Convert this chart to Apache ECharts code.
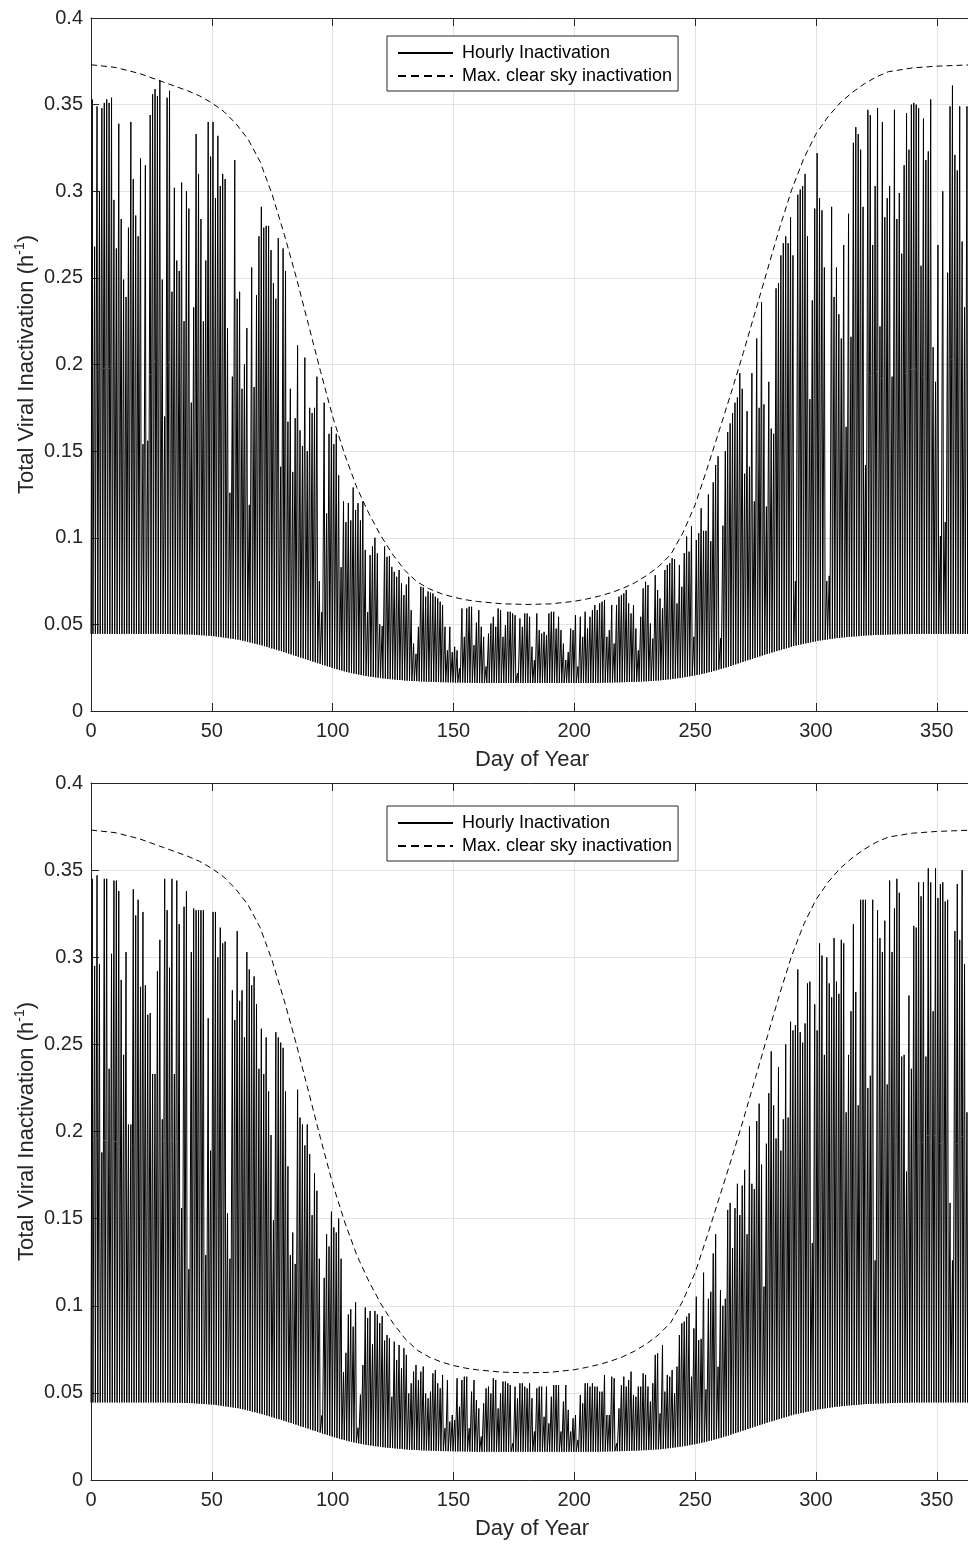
<!DOCTYPE html>
<html><head><meta charset="utf-8">
<script src="https://cdn.jsdelivr.net/npm/echarts/dist/echarts.min.js"></script>
<style>html,body{margin:0;padding:0;background:#fff}#c{width:968px;height:1544px}</style>
</head><body><div id="c"></div>
<script>
// x tick values (Day of Year) and series names
const xTickValues = [0, 50, 100, 150, 200, 250, 300, 350];
const seriesNames = ['Hourly Inactivation', 'Max. clear sky inactivation'];

// night-time (minimum) inactivation for each day 0..364, read from the lower envelope
const nightBase = [
0.0445,0.0445,0.0445,0.0445,0.0445,0.0445,0.0445,0.0445,0.0445,0.0445,
0.0445,0.0445,0.0445,0.0445,0.0445,0.0445,0.0445,0.0445,0.0445,0.0445,
0.0445,0.0445,0.0445,0.0445,0.0445,0.0445,0.0445,0.0445,0.0445,0.0445,
0.0445,0.0445,0.0444,0.0444,0.0444,0.0443,0.0443,0.0443,0.0442,0.0442,
0.0442,0.0441,0.0440,0.0439,0.0438,0.0437,0.0436,0.0435,0.0434,0.0433,
0.0432,0.0430,0.0428,0.0426,0.0424,0.0422,0.0420,0.0418,0.0416,0.0414,
0.0412,0.0409,0.0406,0.0403,0.0399,0.0396,0.0392,0.0389,0.0385,0.0382,
0.0378,0.0374,0.0370,0.0366,0.0361,0.0357,0.0353,0.0349,0.0345,0.0340,
0.0336,0.0331,0.0327,0.0322,0.0318,0.0313,0.0308,0.0304,0.0299,0.0295,
0.0290,0.0285,0.0281,0.0276,0.0272,0.0267,0.0263,0.0258,0.0254,0.0249,
0.0245,0.0241,0.0237,0.0233,0.0229,0.0226,0.0222,0.0219,0.0216,0.0213,
0.0210,0.0207,0.0205,0.0202,0.0200,0.0198,0.0196,0.0194,0.0192,0.0190,
0.0188,0.0187,0.0185,0.0184,0.0183,0.0181,0.0180,0.0179,0.0178,0.0176,
0.0175,0.0174,0.0173,0.0173,0.0172,0.0171,0.0170,0.0170,0.0169,0.0169,
0.0168,0.0168,0.0167,0.0167,0.0166,0.0166,0.0166,0.0165,0.0165,0.0165,
0.0164,0.0164,0.0164,0.0164,0.0163,0.0163,0.0163,0.0163,0.0163,0.0162,
0.0162,0.0162,0.0162,0.0162,0.0162,0.0162,0.0162,0.0162,0.0162,0.0162,
0.0162,0.0162,0.0162,0.0162,0.0162,0.0162,0.0162,0.0162,0.0162,0.0162,
0.0162,0.0162,0.0162,0.0162,0.0162,0.0162,0.0162,0.0162,0.0162,0.0162,
0.0162,0.0162,0.0162,0.0162,0.0162,0.0162,0.0162,0.0162,0.0162,0.0162,
0.0162,0.0162,0.0162,0.0162,0.0162,0.0162,0.0162,0.0162,0.0162,0.0162,
0.0163,0.0163,0.0163,0.0164,0.0164,0.0164,0.0165,0.0165,0.0165,0.0166,
0.0166,0.0167,0.0167,0.0168,0.0168,0.0169,0.0169,0.0170,0.0171,0.0171,
0.0172,0.0173,0.0174,0.0175,0.0176,0.0177,0.0179,0.0180,0.0182,0.0183,
0.0185,0.0187,0.0189,0.0191,0.0193,0.0195,0.0198,0.0200,0.0203,0.0205,
0.0208,0.0211,0.0214,0.0217,0.0220,0.0224,0.0227,0.0231,0.0235,0.0239,
0.0243,0.0247,0.0251,0.0256,0.0260,0.0265,0.0269,0.0274,0.0279,0.0283,
0.0288,0.0293,0.0297,0.0302,0.0306,0.0311,0.0315,0.0320,0.0324,0.0329,
0.0333,0.0337,0.0341,0.0346,0.0350,0.0354,0.0358,0.0362,0.0366,0.0371,
0.0375,0.0378,0.0381,0.0384,0.0387,0.0390,0.0393,0.0396,0.0399,0.0402,
0.0405,0.0407,0.0409,0.0411,0.0413,0.0415,0.0417,0.0419,0.0421,0.0422,
0.0424,0.0425,0.0427,0.0428,0.0429,0.0430,0.0431,0.0432,0.0434,0.0435,
0.0436,0.0437,0.0437,0.0438,0.0439,0.0439,0.0440,0.0440,0.0441,0.0441,
0.0442,0.0442,0.0443,0.0443,0.0443,0.0444,0.0444,0.0444,0.0444,0.0445,
0.0445,0.0445,0.0445,0.0445,0.0445,0.0445,0.0445,0.0445,0.0445,0.0445,
0.0445,0.0445,0.0445,0.0445,0.0445,0.0445,0.0445,0.0445,0.0445,0.0445,
0.0445,0.0445,0.0445,0.0445,0.0445
];

// daily peak of the hourly inactivation, top panel, days 0..364
const peaksTop = [
0.353,0.268,0.349,0.300,0.348,0.351,0.353,0.351,0.354,0.295,
0.267,0.339,0.284,0.249,0.239,0.279,0.340,0.307,0.286,0.274,
0.319,0.154,0.315,0.156,0.344,0.356,0.359,0.355,0.364,0.249,
0.170,0.354,0.358,0.242,0.302,0.260,0.254,0.305,0.225,0.300,
0.290,0.178,0.233,0.333,0.310,0.284,0.225,0.260,0.340,0.320,
0.340,0.296,0.332,0.303,0.310,0.307,0.221,0.126,0.193,0.318,
0.238,0.242,
0.186,0.200,0.221,0.119,0.256,0.187,0.240,0.274,0.291,0.279,
0.280,0.280,0.266,0.247,0.238,0.273,0.141,0.267,0.254,0.167,
0.186,0.138,0.169,0.211,0.162,0.153,0.204,0.150,0.175,0.172,
0.175,0.193,0.075,0.057,0.178,0.114,0.160,0.164,0.154,0.160,
0.136,0.083,0.121,0.109,0.120,0.110,0.129,0.116,0.120,0.110,
0.121,0.093,0.057,0.090,0.095,0.100,0.091,0.050,0.049,0.095,
0.089,0.0894,0.0832,0.0803,0.0775,0.0814,0.0737,0.0669,0.073,0.0775,
0.0582,0.0389,0.033,0.0486,0.0717,0.0713,0.066,0.069,0.0683,0.0679,
0.066,0.065,0.0631,0.0612,0.0486,0.035,0.0486,0.034,0.0371,0.035,
0.0247,0.0592,0.0428,0.0592,0.0602,0.0602,0.038,0.051,0.0582,0.0486,
0.0428,0.0257,0.0447,0.0505,0.0544,0.0486,0.0592,0.0582,0.0428,0.0496,
0.0573,0.0573,0.0563,0.0553,0.0218,0.0534,0.0486,0.0563,0.0563,0.0544,
0.0371,0.0294,0.0563,0.0467,0.0447,0.0457,0.0438,0.0563,0.0573,0.0573,
0.0476,0.0544,0.0467,0.0389,0.0294,0.034,0.0476,0.0467,0.0553,0.0257,
0.0544,0.0428,0.0573,0.0476,0.0544,0.0582,0.0612,0.0582,0.0621,0.0631,
0.0641,0.0428,0.0467,0.0612,0.0389,0.0612,0.066,0.0669,0.0679,0.0698,
0.0621,0.0563,0.0612,0.0476,0.035,0.0544,0.0708,0.0746,0.0727,0.0505,
0.0418,0.0784,0.0698,0.065,0.0592,0.0814,0.0843,0.0853,0.0882,0.0876,
0.0621,0.0843,0.0717,0.0911,0.1007,0.092,0.1067,0.0428,0.0987,0.1026,
0.117,0.104,0.104,0.125,0.098,0.132,0.142,0.147,0.042,0.107,
0.150,0.161,0.166,0.172,0.178,0.181,0.195,0.186,0.137,0.173,
0.141,0.195,0.121,0.215,0.175,0.236,0.177,0.118,0.190,0.163,
0.160,0.244,0.247,0.263,0.270,0.274,0.270,0.285,0.263,0.075,
0.298,0.301,0.303,0.310,0.274,0.180,0.237,0.290,0.322,0.296,
0.289,0.256,0.075,0.078,0.291,0.239,0.256,0.229,0.215,
0.269,
0.164,0.287,0.216,0.328,0.337,0.333,0.324,0.291,0.142,0.347,
0.344,0.269,0.303,0.348,0.222,0.340,0.285,0.296,0.303,0.193,
0.347,0.284,0.299,0.264,0.315,0.345,0.324,0.350,0.351,0.350,
0.348,0.257,0.342,0.318,0.323,0.353,0.210,0.190,0.269,0.101,
0.300,0.109,0.253,0.349,0.361,0.321,0.312,0.349,0.271,0.233,
0.349,
0.300,0.340
];

// daily peak of the hourly inactivation, bottom panel, days 0..364
const peaksBottom = [
0.345,0.295,0.347,0.296,0.188,0.345,0.345,0.236,0.302,0.344,
0.344,0.338,0.287,0.244,0.303,0.204,0.204,0.339,0.324,0.333,
0.283,0.326,0.284,0.267,0.268,0.233,0.233,0.292,0.310,0.207,
0.345,0.327,0.294,0.345,0.233,0.344,0.319,0.156,0.329,0.338,
0.121,0.303,0.328,0.327,0.327,0.327,0.327,0.129,0.265,0.189,
0.326,0.326,0.300,0.317,0.308,0.309,0.153,0.127,0.281,0.264,
0.315,0.275,
0.281,0.254,0.303,0.293,0.284,0.289,0.273,0.236,0.259,0.233,
0.254,0.223,0.198,0.149,0.257,0.254,0.251,0.248,0.223,0.180,
0.129,0.142,0.124,0.224,0.208,0.204,0.192,0.204,0.187,0.152,
0.176,0.166,0.127,0.037,0.116,0.141,0.134,0.154,0.145,0.142,
0.150,0.127,0.062,0.073,0.095,0.098,0.088,0.102,0.030,0.049,
0.066,0.099,0.093,0.097,0.078,0.097,0.095,0.090,0.094,0.080,
0.0832,0.0813,0.0478,0.0794,0.0689,0.0775,0.0641,0.0756,0.0718,0.0497,
0.0555,0.0622,0.066,0.0574,0.0622,0.0651,0.0497,0.0469,0.0507,0.0612,
0.0631,0.0555,0.0526,0.0603,0.0297,0.0574,0.0335,0.0373,0.0344,0.0584,
0.0421,0.0574,0.0593,0.0593,0.0297,0.0507,0.0574,0.0459,0.0411,0.0249,
0.044,0.0526,0.0536,0.0497,0.0584,0.0574,0.0411,0.0497,0.0565,0.0565,
0.0555,0.0545,0.021,0.0536,0.0469,0.0555,0.0555,0.0536,0.0526,0.0555,
0.0469,0.0278,0.0526,0.0536,0.0536,0.0363,0.0536,0.0325,0.0478,0.0545,
0.0545,0.0545,0.0278,0.045,0.0545,0.0402,0.0278,0.0354,0.0373,0.023,
0.0488,0.044,0.0555,0.0555,0.0536,0.0555,0.0536,0.0536,0.0507,0.0507,
0.0603,0.0373,0.0373,0.0593,0.0584,0.021,0.0411,0.0545,0.0593,0.0536,
0.0574,0.0622,0.0488,0.0478,0.0536,0.0536,0.0612,0.0603,0.0536,0.045,
0.0555,0.0718,0.0728,0.0382,0.0775,0.0507,0.0603,0.0593,0.0631,0.0497,
0.0651,0.0832,0.0899,0.0909,0.0937,0.0957,0.0593,0.087,0.1052,0.0803,
0.081,0.119,0.052,0.104,0.108,0.130,0.141,0.065,0.109,0.100,
0.104,0.155,0.159,0.133,0.156,0.170,0.152,0.169,0.178,0.141,
0.203,0.170,0.167,0.206,0.216,0.181,0.111,0.193,0.222,0.246,
0.215,0.196,0.237,0.189,0.207,0.250,0.208,0.263,0.258,0.261,
0.293,0.257,0.251,0.262,0.285,0.286,0.136,0.273,0.258,0.308,
0.301,0.244,0.300,0.285,0.277,0.311,0.286,0.279,0.310,
0.308,
0.211,0.244,0.269,0.319,0.280,0.215,0.333,0.333,0.333,0.225,
0.232,0.333,0.126,0.327,0.311,0.303,0.321,0.227,0.344,0.303,
0.328,0.345,0.337,0.243,0.244,0.177,0.278,0.236,0.318,0.317,
0.343,0.335,0.343,0.243,0.351,0.343,0.269,0.351,0.334,0.342,
0.343,0.332,0.333,0.159,0.126,0.315,0.342,0.310,0.350,0.296,
0.211,
0.320,0.345
];

// max. clear sky inactivation (dashed), read at these days
const clearSkyDays = [0,10,20,30,40,45,50,55,60,65,70,75,80,85,90,95,100,105,110,115,120,125,130,135,140,145,150,155,160,170,180,190,200,205,210,215,220,225,230,235,240,245,250,255,260,265,270,275,280,285,290,295,300,305,310,315,320,325,330,340,350,365];
const clearSkyValues = [0.373,0.3715,0.368,0.363,0.358,0.355,0.351,0.346,0.339,0.330,0.317,0.298,0.275,0.250,0.223,0.196,0.170,0.148,0.129,0.114,0.101,0.090,0.081,0.0745,0.0705,0.0677,0.0657,0.0642,0.0632,0.0619,0.0615,0.0618,0.0633,0.0646,0.0662,0.0682,0.0707,0.0740,0.0782,0.0835,0.0905,0.103,0.119,0.140,0.162,0.184,0.207,0.231,0.255,0.279,0.301,0.319,0.333,0.343,0.351,0.357,0.362,0.366,0.369,0.3712,0.3722,0.373];

const FONT = "'Liberation Sans', Arial, Helvetica, sans-serif";
const INK = '#262626';
const GRIDC = '#e3e3e3';

function hourlyData(peaks) {
  const d = [[0, nightBase[0]]];
  for (let i = 0; i < peaks.length; i++) {
    d.push([i + 0.2, nightBase[i]], [i + 0.5, peaks[i]], [i + 0.8, nightBase[i]]);
  }
  d.push([365, nightBase[nightBase.length - 1]]);
  return d;
}
const clearData = clearSkyDays.map((d, i) => [d, clearSkyValues[i]]);

const panels = [
  { top: 18, height: 693, peaks: peaksTop, legendTop: 36 },
  { top: 783, height: 697, peaks: peaksBottom, legendTop: 806 }
];

const option = { animation: false, backgroundColor: '#fff', grid: [], xAxis: [], yAxis: [], series: [], legend: [] };

panels.forEach((p, k) => {
  option.grid.push({ left: 91, top: p.top, width: 882, height: p.height, containLabel: false, outerBoundsMode: 'none' });
  const common = {
    type: 'value', gridIndex: k, min: 0, max: 365, interval: 50,
    axisLine: { show: true, onZero: false, lineStyle: { color: INK, width: 1 } },
    axisTick: { show: true, inside: true, length: 8, lineStyle: { color: INK, width: 1 } }
  };
  option.xAxis.push(Object.assign({}, common, {
    position: 'bottom',
    axisLabel: { show: true, margin: 10, fontSize: 20, fontFamily: FONT, color: INK,
      formatter: v => (xTickValues.indexOf(v) >= 0 ? String(v) : '') },
    splitLine: { show: true, lineStyle: { color: GRIDC, width: 1 } },
    name: 'Day of Year', nameLocation: 'middle', nameGap: 38, nameMoveOverlap: false,
    nameTextStyle: { fontSize: 22, fontFamily: FONT, color: INK }
  }));
  option.xAxis.push(Object.assign({}, common, {
    position: 'top', axisLabel: { show: false }, splitLine: { show: false }
  }));
  option.yAxis.push({
    type: 'value', gridIndex: k, min: 0, max: 0.4, interval: 0.05, position: 'left',
    axisLine: { show: true, onZero: false, lineStyle: { color: INK, width: 1 } },
    axisTick: { show: true, inside: true, length: 8, lineStyle: { color: INK, width: 1 } },
    axisLabel: { margin: 8, fontSize: 20, fontFamily: FONT, color: INK },
    splitLine: { show: true, lineStyle: { color: GRIDC, width: 1 } },
    name: 'Total Viral Inactivation (h{sup|-1})', nameLocation: 'middle', nameGap: 50, nameMoveOverlap: false,
    nameTextStyle: { fontSize: 22, fontFamily: FONT, color: INK, lineHeight: 28,
      rich: { sup: { fontSize: 14, lineHeight: 14, verticalAlign: 'top', fontFamily: FONT, color: INK } } }
  });
  option.series.push({
    name: seriesNames[0], type: 'line', xAxisIndex: 2 * k, yAxisIndex: k,
    data: hourlyData(p.peaks), showSymbol: false, symbol: 'none', smooth: false,
    lineStyle: { color: '#000', width: 1 }, itemStyle: { color: '#000' },
    progressive: 0, silent: true, z: 2
  });
  option.series.push({
    name: seriesNames[1], type: 'line', xAxisIndex: 2 * k, yAxisIndex: k,
    data: clearData, showSymbol: false, symbol: 'none', smooth: false,
    lineStyle: { color: '#000', width: 1, type: [6, 4] }, itemStyle: { color: '#000' },
    silent: true, z: 3
  });
  option.legend.push({
    data: [
      { name: seriesNames[0] },
      { name: seriesNames[1], lineStyle: { type: [8, 5] } }
    ],
    orient: 'vertical', left: 387, top: p.legendTop,
    itemWidth: 55, itemHeight: 18, itemGap: 5,
    padding: [8, 6, 6, 10], borderColor: INK, borderWidth: 1, backgroundColor: '#fff',
    selectedMode: false,
    itemStyle: { color: 'rgba(0,0,0,0)', borderWidth: 0, opacity: 0 },
    textStyle: { fontSize: 18, fontFamily: FONT, color: '#000', lineHeight: 18, padding: [0, 0, 0, 4] }
  });
});

const chart = echarts.init(document.getElementById('c'), null, { renderer: 'canvas', width: 968, height: 1544 });
chart.setOption(option);
</script>
</body></html>
